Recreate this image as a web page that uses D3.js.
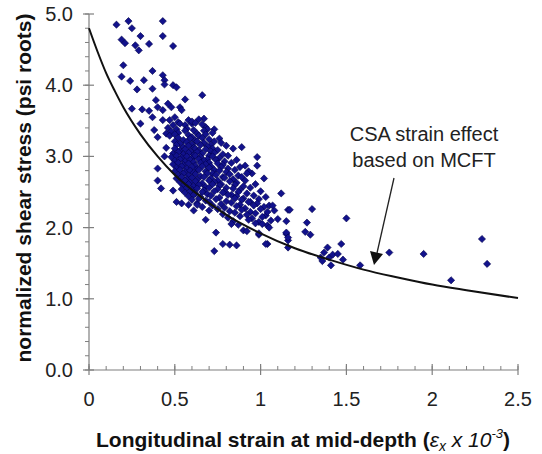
<!DOCTYPE html>
<html><head><meta charset="utf-8">
<script src="https://cdn.jsdelivr.net/npm/d3@7"></script>
<style>body{margin:0;background:#fff}svg{display:block}text{font-family:"Liberation Sans",Arial,sans-serif}</style>
</head><body><svg id="c" width="542" height="454"></svg>
<script>
// ---- data (strain x 10^-3, normalized shear stress) ----
const xTickValues = [0, 0.5, 1, 1.5, 2, 2.5];
const xTickLabels = ["0", "0.5", "1", "1.5", "2", "2.5"];
const yTickValues = [0, 1, 2, 3, 4, 5];
const yTickLabels = ["0.0", "1.0", "2.0", "3.0", "4.0", "5.0"];

// CSA / MCFT strain-effect curve
const curveStrain = [0, 0.05, 0.1, 0.15, 0.2, 0.3, 0.4, 0.5, 0.6, 0.8, 1.0, 1.2, 1.4, 1.6, 1.8, 2.0, 2.2, 2.5];
const curveStress = [4.80, 4.47, 4.17, 3.92, 3.69, 3.31, 3.00, 2.74, 2.53, 2.18, 1.92, 1.71, 1.55, 1.41, 1.30, 1.20, 1.12, 1.01];

// scattered test results, upper-left part
const upperPoints = [
 [0.16,4.85],[0.23,4.90],[0.25,4.80],[0.43,4.90],[0.30,4.69],[0.43,4.69],[0.19,4.64],[0.21,4.59],
 [0.27,4.56],[0.29,4.49],[0.35,4.58],[0.49,4.55],[0.20,4.28],[0.37,4.20],[0.19,4.12],[0.24,4.06],
 [0.32,4.07],[0.28,3.94],[0.43,4.14],[0.44,4.07],[0.37,3.95],[0.49,4.00],[0.51,3.97],[0.44,4.01],
 [0.66,3.86],[0.39,3.79],[0.56,3.80],[0.25,3.67],[0.31,3.66],[0.35,3.64],[0.30,3.46],[0.40,3.69],
 [0.43,3.65],[0.48,3.69],[0.53,3.69],[0.54,3.65],[0.46,3.74],[0.37,3.55],[0.43,3.51],[0.50,3.55],
 [0.58,3.51],[0.67,3.53],[0.38,3.37],[0.40,3.27],[0.45,3.32],[0.56,3.44],[0.60,3.46],[0.73,3.38],
 [0.68,3.41],[0.89,3.13],[0.76,3.25],[0.44,3.00],[0.98,2.99],[0.98,2.87],[0.95,2.76],[1.02,2.69]
];

// dense core of the cloud
const corePoints = [
 [0.47,3.51],[0.52,3.48],[0.60,3.49],[0.64,3.52],
 [0.49,3.44],[0.53,3.46],[0.62,3.47],[0.66,3.45],
 [0.46,3.40],[0.51,3.38],[0.57,3.39],[0.61,3.37],[0.69,3.38],
 [0.48,3.35],[0.52,3.33],[0.56,3.36],[0.63,3.32],[0.67,3.36],[0.72,3.33],
 [0.47,3.29],[0.50,3.31],[0.58,3.30],[0.60,3.27],[0.64,3.29],[0.68,3.31],
 [0.52,3.26],[0.55,3.23],[0.59,3.25],[0.62,3.22],[0.66,3.26],[0.70,3.24],[0.73,3.21],
 [0.50,3.21],[0.53,3.18],[0.57,3.20],[0.60,3.17],[0.63,3.21],[0.67,3.19],[0.71,3.16],[0.77,3.19],
 [0.45,3.12],[0.51,3.16],[0.55,3.13],[0.58,3.15],[0.61,3.12],[0.65,3.16],[0.69,3.14],[0.72,3.11],[0.80,3.15],
 [0.50,3.11],[0.53,3.08],[0.56,3.10],[0.59,3.07],[0.62,3.11],[0.64,3.08],[0.68,3.10],[0.71,3.07],[0.75,3.09],[0.84,3.11],
 [0.49,3.04],[0.52,3.06],[0.55,3.03],[0.58,3.05],[0.61,3.02],[0.63,3.06],[0.66,3.04],[0.70,3.01],[0.73,3.05],[0.78,3.03],
 [0.48,2.99],[0.51,3.01],[0.54,2.98],[0.57,3.00],[0.60,2.97],[0.62,3.01],[0.65,2.99],[0.69,2.96],[0.72,3.00],[0.76,2.98],[0.81,3.01],
 [0.50,2.94],[0.53,2.96],[0.56,2.93],[0.59,2.95],[0.61,2.92],[0.64,2.96],[0.67,2.94],[0.70,2.91],[0.74,2.95],[0.79,2.93],[0.86,2.95],
 [0.49,2.89],[0.52,2.91],[0.55,2.88],[0.58,2.90],[0.62,2.87],[0.65,2.91],[0.68,2.89],[0.71,2.86],[0.75,2.90],[0.78,2.88],[0.83,2.91],[0.91,2.87],
 [0.51,2.84],[0.54,2.86],[0.57,2.83],[0.60,2.85],[0.63,2.82],[0.66,2.86],[0.70,2.84],[0.73,2.81],[0.77,2.85],[0.81,2.83],[0.88,2.85],
 [0.50,2.79],[0.53,2.81],[0.56,2.78],[0.59,2.80],[0.61,2.77],[0.64,2.81],[0.68,2.79],[0.72,2.76],[0.76,2.80],[0.80,2.78],[0.85,2.81],[0.93,2.79],
 [0.52,2.74],[0.55,2.76],[0.58,2.73],[0.62,2.75],[0.65,2.72],[0.69,2.76],[0.74,2.74],[0.78,2.71],[0.82,2.75],[0.87,2.73],[0.92,2.76],
 [0.51,2.69],[0.54,2.71],[0.57,2.68],[0.60,2.70],[0.63,2.67],[0.67,2.71],[0.71,2.69],[0.75,2.66],[0.79,2.70],[0.84,2.68],[0.89,2.71],
 [0.53,2.64],[0.56,2.66],[0.59,2.63],[0.62,2.65],[0.66,2.62],[0.70,2.66],[0.73,2.64],[0.77,2.61],[0.82,2.65],[0.86,2.63],[0.91,2.66],
 [0.55,2.59],[0.58,2.61],[0.61,2.58],[0.64,2.60],[0.68,2.57],[0.72,2.61],[0.76,2.59],[0.80,2.56],[0.85,2.60],[0.90,2.58],[0.97,2.61],
 [0.54,2.54],[0.57,2.56],[0.60,2.53],[0.63,2.55],[0.67,2.52],[0.70,2.56],[0.75,2.54],[0.79,2.51],[0.84,2.55],[0.88,2.53],[0.94,2.56],
 [0.56,2.49],[0.59,2.51],[0.62,2.48],[0.66,2.50],[0.69,2.47],[0.73,2.51],[0.78,2.49],[0.83,2.46],[0.87,2.50],[0.92,2.48],[1.00,2.51],
 [0.58,2.44],[0.61,2.46],[0.65,2.43],[0.71,2.45],[0.76,2.42],[0.81,2.46],[0.86,2.44],[0.90,2.41],[0.96,2.45],[1.03,2.43],
 [0.60,2.39],[0.64,2.41],[0.68,2.38],[0.74,2.40],[0.80,2.37],[0.85,2.41],[0.89,2.39],[0.94,2.36],[0.99,2.40],
 [0.63,2.34],[0.70,2.36],[0.77,2.33],[0.83,2.35],[0.88,2.32],[0.93,2.36],[0.98,2.34],[1.05,2.31],
 [0.66,2.29],[0.72,2.31],[0.79,2.28],[0.86,2.30],[0.91,2.27],[0.96,2.31],[1.02,2.29],
 [0.70,2.24],[0.75,2.26],[0.82,2.23],[0.89,2.25],[0.94,2.22],[1.00,2.26],[1.08,2.24],
 [0.78,2.19],[0.85,2.21],[0.92,2.18],[0.97,2.20],[1.03,2.17],
 [0.81,2.14],[0.88,2.16],[0.95,2.13],[1.01,2.15],[1.10,2.12],
 [0.84,2.09],[0.93,2.11],[0.99,2.08],[1.06,2.10],
 [0.87,2.04],[0.97,2.06],[1.04,2.03]
];

// lower edge of the cloud
const lowerPoints = [
 [0.40,2.83],[0.40,2.66],[0.42,2.55],[0.49,2.52],[0.51,2.36],[0.54,2.34],[0.58,2.32],[0.61,2.24],
 [0.63,2.32],[0.68,2.11],[0.74,1.93],[0.73,1.67],[0.78,1.77],[0.82,1.76],[0.86,1.75],[0.83,2.05],
 [0.90,1.96],[0.92,1.95],[0.99,1.90],[1.04,1.77],[1.12,2.48],[1.07,2.31],[1.16,2.25],[1.15,2.09],
 [1.04,2.22],[1.01,2.05],[1.05,2.00],[0.99,1.92],[1.03,1.77],[1.15,1.91],[1.16,1.82],[1.16,1.72]
];

// long-strain tail
const tailPoints = [
 [1.15,1.93],[1.16,1.86],[1.26,1.94],[1.29,1.90],[1.47,1.77],[1.39,1.72],[1.37,1.65],[1.35,1.58],
 [1.36,1.53],[1.40,1.58],[1.42,1.62],[1.45,1.63],[1.41,1.47],[1.48,1.55],[1.58,1.47],[1.75,1.65],
 [1.95,1.63],[2.29,1.84],[2.32,1.49],[2.11,1.26],[1.17,2.25],[1.30,2.26],[1.27,2.07],[1.50,2.13]
];

// ---- drawing ----
const svg = d3.select("#c");
const x = d3.scaleLinear().domain([0, 2.5]).range([89, 518]);
const y = d3.scaleLinear().domain([0, 5]).range([370, 14]);
const axisColor = "#7f7f7f";

// axes lines
svg.append("line").attr("x1", x(0)).attr("x2", x(2.5)).attr("y1", y(0)).attr("y2", y(0))
  .attr("stroke", axisColor).attr("stroke-width", 1.2);
svg.append("line").attr("x1", x(0)).attr("x2", x(0)).attr("y1", y(0)).attr("y2", y(5))
  .attr("stroke", axisColor).attr("stroke-width", 1.2);

// x minor & major ticks
svg.append("g").selectAll("line").data(d3.range(0, 26).map(i => i / 10)).join("line")
  .attr("x1", d => x(d)).attr("x2", d => x(d)).attr("y1", y(0) - 4).attr("y2", y(0))
  .attr("stroke", axisColor);
svg.append("g").selectAll("line").data(xTickValues).join("line")
  .attr("x1", d => x(d)).attr("x2", d => x(d)).attr("y1", y(0) - 6).attr("y2", y(0) + 5)
  .attr("stroke", axisColor).attr("stroke-width", 1.2);
svg.append("g").selectAll("text").data(xTickValues).join("text")
  .attr("x", d => x(d)).attr("y", 406).attr("text-anchor", "middle")
  .attr("font-size", 20).attr("fill", "#222").text((d, i) => xTickLabels[i]);

// y minor & major ticks
svg.append("g").selectAll("line").data(d3.range(0, 26).map(i => i / 5)).join("line")
  .attr("x1", x(0) - 4).attr("x2", x(0)).attr("y1", d => y(d)).attr("y2", d => y(d))
  .attr("stroke", axisColor);
svg.append("g").selectAll("line").data(yTickValues).join("line")
  .attr("x1", x(0) - 6).attr("x2", x(0) + 5).attr("y1", d => y(d)).attr("y2", d => y(d))
  .attr("stroke", axisColor).attr("stroke-width", 1.2);
svg.append("g").selectAll("text").data(yTickValues).join("text")
  .attr("x", 73).attr("y", d => y(d) + 7).attr("text-anchor", "end")
  .attr("font-size", 20).attr("fill", "#222").text((d, i) => yTickLabels[i]);

// axis titles
svg.append("text").attr("transform", "translate(31,188) rotate(-90)")
  .attr("text-anchor", "middle").attr("font-size", 21).attr("font-weight", "bold").attr("fill", "#111")
  .text("normalized shear stress (psi roots)");

const xt = svg.append("text").attr("x", 303).attr("y", 447).attr("text-anchor", "middle")
  .attr("font-size", 21).attr("font-weight", "bold").attr("fill", "#111");
xt.append("tspan").text("Longitudinal strain at mid-depth (");
xt.append("tspan").attr("font-weight", "normal").attr("font-style", "italic").text("\u03b5");
xt.append("tspan").attr("font-weight", "normal").attr("font-style", "italic").attr("font-size", 14).attr("dy", 4).text("x");
xt.append("tspan").attr("font-weight", "normal").attr("font-style", "italic").attr("dy", -4).text(" x 10");
xt.append("tspan").attr("font-weight", "normal").attr("font-style", "italic").attr("font-size", 13).attr("dy", -9).text("-3");
xt.append("tspan").attr("dy", 9).text(")");

// scatter
const allPoints = [...upperPoints, ...corePoints, ...lowerPoints, ...tailPoints];
const r = 3.6;
svg.append("g").selectAll("path").data(allPoints).join("path")
  .attr("d", `M0,${-r}L${r},0L0,${r}L${-r},0Z`)
  .attr("transform", d => `translate(${x(d[0])},${y(d[1])})`)
  .attr("fill", "#12128c").attr("stroke", "#00004a").attr("stroke-width", 0.6);

// curve
const line = d3.line().x((d, i) => x(curveStrain[i])).y(d => y(d)).curve(d3.curveMonotoneX);
svg.append("path").attr("d", line(curveStress)).attr("fill", "none")
  .attr("stroke", "#111").attr("stroke-width", 2);

// annotation
svg.append("text").attr("x", 424).attr("y", 141).attr("text-anchor", "middle")
  .attr("font-size", 20).attr("fill", "#222").text("CSA strain effect");
svg.append("text").attr("x", 424).attr("y", 167).attr("text-anchor", "middle")
  .attr("font-size", 20).attr("fill", "#222").text("based on MCFT");
svg.append("line").attr("x1", 394).attr("y1", 178).attr("x2", 377).attr("y2", 253)
  .attr("stroke", "#222").attr("stroke-width", 1.3);
svg.append("path").attr("d", "M374,265 L370,251 L383,254 Z").attr("fill", "#111");
</script></body></html>
